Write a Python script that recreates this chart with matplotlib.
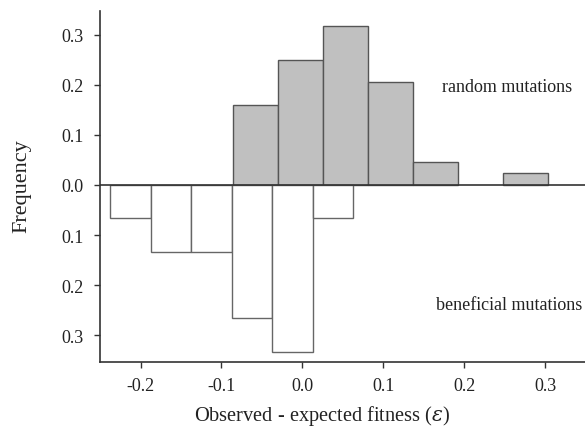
import matplotlib
matplotlib.use("Agg")
import matplotlib.pyplot as plt
import numpy as np
from matplotlib.ticker import FuncFormatter

# Random mutations (upper histogram)
random_edges = [-0.0862, -0.0306, 0.0250, 0.0806, 0.1362, 0.1918, 0.2474, 0.3030]
random_freq = [0.159, 0.250, 0.318, 0.205, 0.045, 0.0, 0.023]

# Beneficial mutations (lower histogram, plotted downward)
benef_edges = [-0.2375, -0.1875, -0.1375, -0.0875, -0.0375, 0.0125, 0.0625]
benef_freq = [0.0667, 0.1333, 0.1333, 0.2667, 0.3333, 0.0667]

xticks = [-0.2, -0.1, 0.0, 0.1, 0.2, 0.3]
yticks = [-0.3, -0.2, -0.1, 0.0, 0.1, 0.2, 0.3]

plt.rcParams['font.family'] = ['Liberation Serif', 'DejaVu Serif']
plt.rcParams['mathtext.fontset'] = 'dejavuserif'

fig = plt.figure(figsize=(5.85, 4.39), dpi=100)
ax = fig.add_axes([0.171, 0.174, 0.829, 0.799])

r_left = np.array(random_edges[:-1])
r_w = np.diff(random_edges)
rf = np.array(random_freq)
mask = rf > 0
ax.bar(r_left[mask], rf[mask], width=r_w[mask], align='edge',
       color='#c0c0c0', edgecolor='#555555', linewidth=1.0, zorder=2)

b_left = np.array(benef_edges[:-1])
b_w = np.diff(benef_edges)
ax.bar(b_left, -np.array(benef_freq), width=b_w, align='edge',
       color='white', edgecolor='#666666', linewidth=1.0, zorder=2)

ax.axhline(0, color='#333333', linewidth=1.2, zorder=3)

ax.set_xlim(-0.25, 0.349)
ax.set_ylim(-0.353, 0.348)
ax.set_xticks(xticks)
ax.set_yticks(yticks)
ax.xaxis.set_major_formatter(FuncFormatter(lambda v, p: f"{v:.1f}".replace("-0.0", "0.0")))
ax.yaxis.set_major_formatter(FuncFormatter(lambda v, p: f"{abs(v):.1f}"))

for s in ['top', 'right']:
    ax.spines[s].set_visible(False)
for s in ['left', 'bottom']:
    ax.spines[s].set_color('#333333')
    ax.spines[s].set_linewidth(1.2)
ax.tick_params(direction='out', length=4, width=1.0, color='#333333',
               labelsize=13, labelcolor='#222222')
ax.tick_params(axis='x', pad=7)
ax.tick_params(axis='y', pad=8)

fig.text(22 / 585, 1 - 186 / 439, 'Frequency', fontsize=16, color='#222222',
         rotation=90, ha='center', va='center')
fig.text(322 / 585, 1 - 416 / 439, r'Observed - expected fitness ($\varepsilon$)',
         fontsize=14.7, color='#222222', ha='center', va='center')

ax.text(0.2525, 0.196, 'random mutations', fontsize=13, ha='center', va='center', color='#222222')
ax.text(0.255, -0.238, 'beneficial mutations', fontsize=13, ha='center', va='center', color='#222222')

fig.savefig('out.png', dpi=100)
